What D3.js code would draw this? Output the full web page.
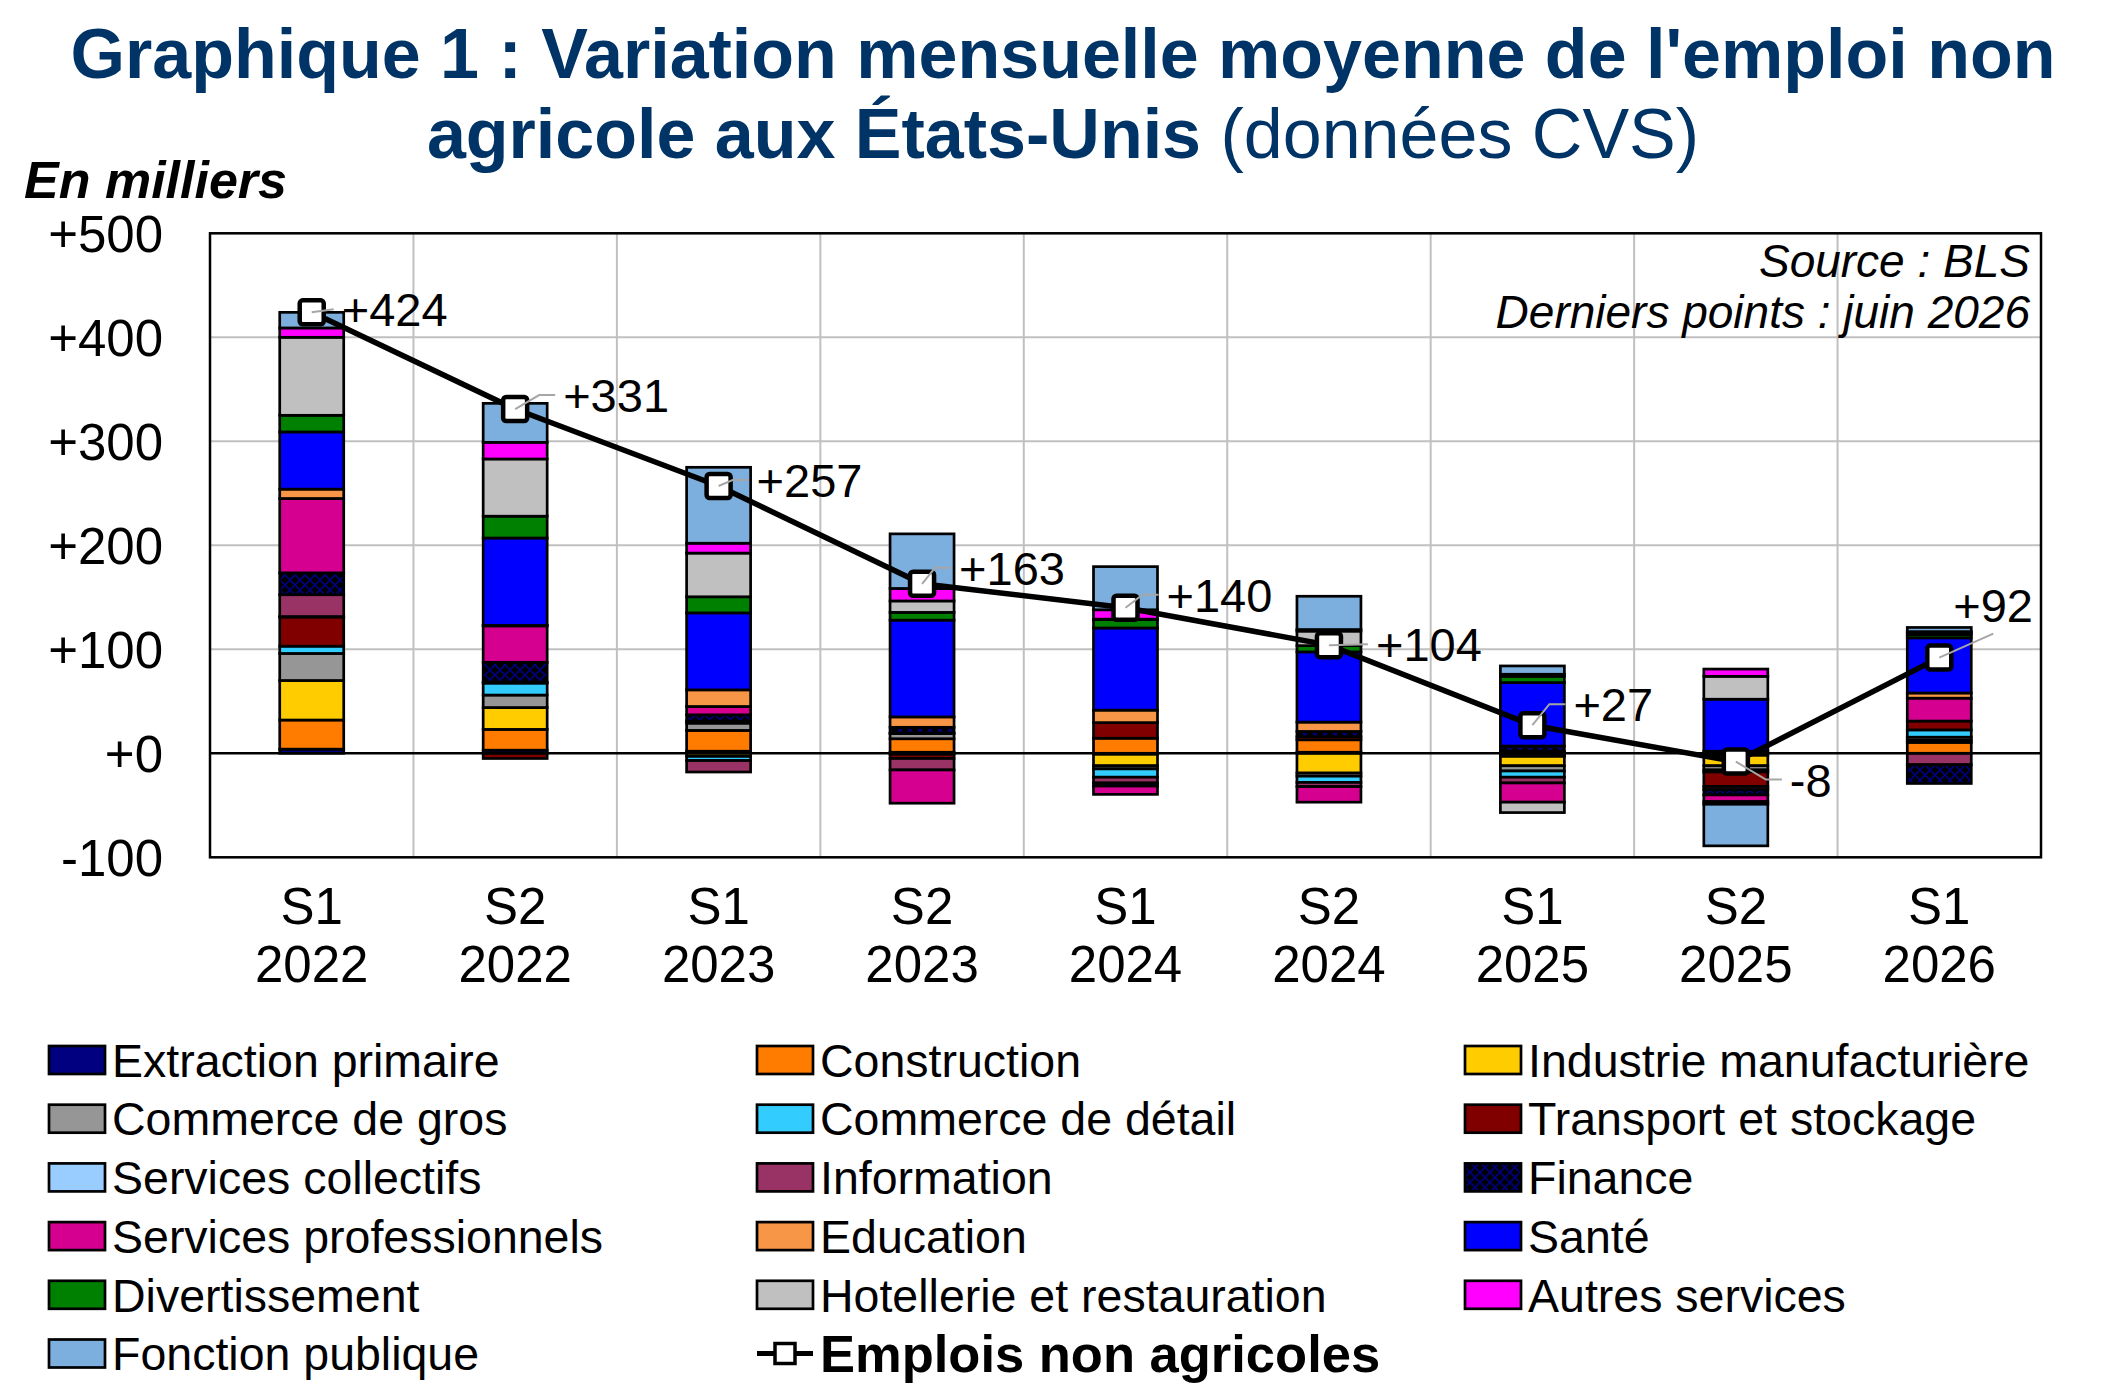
<!DOCTYPE html>
<html lang="fr">
<head>
<meta charset="utf-8">
<script src="https://cdn.jsdelivr.net/npm/d3@7"></script>
<style>
  body { margin: 0; background: #fff; }
  svg { display: block; font-family: "Liberation Sans", Arial, sans-serif; }
</style>
</head>
<body>
<div id="chart"></div>
<script>
// Semestres
const periods = ["S1 2022", "S2 2022", "S1 2023", "S2 2023", "S1 2024", "S2 2024", "S1 2025", "S2 2025", "S1 2026"];

// Contributions par secteur (milliers, moyenne mensuelle)
const extraction     = [4, 3, 2, 1, -1, 1, -2, -2, 0];
const construction   = [28, 20, 20, 13, 14.5, 12, -1, 0, 10.5];
const industrie      = [38, 21, -3, -1, -11, -19, -9, -10, 2];
const commerceGros   = [26, 12, 7, 5, -3, -3, -5, -4, 3];
const commerceDetail = [7, 11.5, -4, 0.5, -8, -6, -6, -2, 7];
const transport      = [28, -5, 2, -4, 15, 3, 2, -14, 8.5];
const collectifs     = [0.5, 0, 0, 0, 0, 0, 0, 0, 0];
const information    = [21, 1, -11, -11, -5.5, -4, -5.5, -3, -11];
const finance        = [21, 19, 6, 5.5, -3, 5, 5, -5, -18];
const servicesPro    = [71.5, 35, 8, -32, -8, -15, -18.5, -6.5, 22];
const education      = [9, 0.5, 16, 10, 12, 9, 0, 2, 5];
const sante          = [55, 84, 74, 93, 79, 67.5, 61, 50, 53];
const divertissement = [16, 21, 15.5, 7.5, 8, 6, 6, -2.5, 3];
const hotellerie     = [75, 55, 42, 11, 0.5, 14, -10, 22, 2];
const autresServices = [9, 16, 9.5, 12, 9, 1.5, 2, 7, 1];
const fonctionPub    = [15, 37.5, 73, 52.5, 41.5, 32, 8, -40, 4];

// Total emploi non agricole
const emploisTotal = [424, 331, 257, 163, 140, 104, 27, -8, 92];

const yTicks = [-100, 0, 100, 200, 300, 400, 500];

const series = [
  { name: "Extraction primaire", values: extraction, color: "#000080" },
  { name: "Construction", values: construction, color: "#ff7c00" },
  { name: "Industrie manufacturière", values: industrie, color: "#ffcc00" },
  { name: "Commerce de gros", values: commerceGros, color: "#969696" },
  { name: "Commerce de détail", values: commerceDetail, color: "#33ccff" },
  { name: "Transport et stockage", values: transport, color: "#800000" },
  { name: "Services collectifs", values: collectifs, color: "#99ccff" },
  { name: "Information", values: information, color: "#993366" },
  { name: "Finance", values: finance, color: "url(#hatch)" },
  { name: "Services professionnels", values: servicesPro, color: "#d5008f" },
  { name: "Education", values: education, color: "#f79646" },
  { name: "Santé", values: sante, color: "#0000ff" },
  { name: "Divertissement", values: divertissement, color: "#008000" },
  { name: "Hotellerie et restauration", values: hotellerie, color: "#c0c0c0" },
  { name: "Autres services", values: autresServices, color: "#ff00ff" },
  { name: "Fonction publique", values: fonctionPub, color: "#7cafdd" }
];

// label placement relative to the marker
const labelOffsets = [[30, -3], [48, -14], [38, -6], [37, -16], [41, -13], [47, -1], [41, -21], [54, 18], [14, -53]];

const width = 2126, height = 1384;
const plot = { left: 210, right: 2041, top: 233.3, bottom: 857.3 };

const svg = d3.select("#chart").append("svg").attr("width", width).attr("height", height);

const defs = svg.append("defs");
const pat = defs.append("pattern").attr("id", "hatch").attr("patternUnits", "userSpaceOnUse")
  .attr("width", 10).attr("height", 10);
pat.append("rect").attr("width", 10).attr("height", 10).attr("fill", "#000");
pat.append("path").attr("d", "M0,0L10,10M10,0L0,10").attr("stroke", "#000080").attr("stroke-width", 1.6);

const x = d3.scaleBand().domain(periods).range([plot.left, plot.right]);
const y = d3.scaleLinear().domain([-100, 500]).range([plot.bottom, plot.top]);
const barW = 64;

// Title
const title = svg.append("text").attr("text-anchor", "middle").attr("fill", "#003366")
  .style("font-size", "70px").style("font-weight", "bold");
title.append("tspan").attr("x", width / 2).attr("y", 78).text("Graphique 1 : Variation mensuelle moyenne de l'emploi non");
const t2 = title.append("tspan").attr("x", width / 2).attr("y", 158);
t2.append("tspan").text("agricole aux États-Unis");
t2.append("tspan").style("font-weight", "normal").text(" (données CVS)");

svg.append("text").attr("x", 24).attr("y", 198)
  .style("font-size", "52px").style("font-weight", "bold").style("font-style", "italic")
  .text("En milliers");

// gridlines
svg.append("g").selectAll("line").data(yTicks.filter(v => v !== 0)).enter().append("line")
  .attr("x1", plot.left).attr("x2", plot.right)
  .attr("y1", d => y(d)).attr("y2", d => y(d))
  .attr("stroke", "#c0c0c0").attr("stroke-width", 2);
svg.append("g").selectAll("line").data(periods.slice(1)).enter().append("line")
  .attr("x1", d => x(d)).attr("x2", d => x(d))
  .attr("y1", plot.top).attr("y2", plot.bottom)
  .attr("stroke", "#c0c0c0").attr("stroke-width", 2);

svg.append("text").attr("x", 2030).attr("y", 277).attr("text-anchor", "end")
  .style("font-size", "46px").style("font-style", "italic").text("Source : BLS");
svg.append("text").attr("x", 2030).attr("y", 328).attr("text-anchor", "end")
  .style("font-size", "46px").style("font-style", "italic").text("Derniers points : juin 2026");

// bars
const table = periods.map((p, i) => {
  const row = { period: p };
  series.forEach(s => row[s.name] = s.values[i]);
  return row;
});
const layers = d3.stack().keys(series.map(s => s.name)).offset(d3.stackOffsetDiverging)(table);

svg.append("g").selectAll("g").data(layers).enter().append("g")
  .attr("fill", (d, i) => series[i].color)
  .selectAll("rect").data(d => d.filter(v => v[1] !== v[0])).enter().append("rect")
  .attr("x", d => x(d.data.period) + x.bandwidth() / 2 - barW / 2)
  .attr("width", barW)
  .attr("y", d => y(Math.max(d[0], d[1])))
  .attr("height", d => Math.abs(y(d[0]) - y(d[1])))
  .attr("stroke", "#000").attr("stroke-width", 2.7);

// zero line and frame
svg.append("line").attr("x1", plot.left).attr("x2", plot.right).attr("y1", y(0)).attr("y2", y(0))
  .attr("stroke", "#000").attr("stroke-width", 2.5);
svg.append("rect").attr("x", plot.left).attr("y", plot.top)
  .attr("width", plot.right - plot.left).attr("height", plot.bottom - plot.top)
  .attr("fill", "none").attr("stroke", "#000").attr("stroke-width", 2.5);

// axes labels
svg.append("g").selectAll("text").data(yTicks).enter().append("text")
  .attr("x", 163).attr("y", d => y(d)).attr("dy", "0.36em").attr("text-anchor", "end")
  .style("font-size", "51px")
  .text(d => d > 0 ? "+" + d : d === 0 ? "+0" : d);

const xl = svg.append("g").selectAll("text").data(periods).enter().append("text")
  .attr("text-anchor", "middle").style("font-size", "51px");
xl.append("tspan").attr("x", d => x(d) + x.bandwidth() / 2).attr("y", 924).text(d => d.split(" ")[0]);
xl.append("tspan").attr("x", d => x(d) + x.bandwidth() / 2).attr("y", 982).text(d => d.split(" ")[1]);

// total line
const cx = i => x(periods[i]) + x.bandwidth() / 2;
svg.append("path").datum(emploisTotal)
  .attr("d", d3.line().x((d, i) => cx(i)).y(d => y(d)))
  .attr("fill", "none").attr("stroke", "#000").attr("stroke-width", 5.5);

svg.append("g").selectAll("rect").data(emploisTotal).enter().append("rect")
  .attr("x", (d, i) => cx(i) - 12).attr("y", d => y(d) - 12)
  .attr("width", 24).attr("height", 24).attr("rx", 3)
  .attr("fill", "#fff").attr("stroke", "#000").attr("stroke-width", 4.5);

// leader lines + labels
const lab = svg.append("g");
emploisTotal.forEach((v, i) => {
  const mx = cx(i), my = y(v);
  const lx = mx + labelOffsets[i][0], ly = my + labelOffsets[i][1];
  let pts;
  if (i === 8) pts = [[mx, my], [lx + 40, ly + 29]];
  else if (Math.abs(labelOffsets[i][1]) < 4) pts = [[mx, my], [lx - 8, ly]];
  else pts = [[mx, my], [lx - 24, ly], [lx - 8, ly]];
  lab.append("path").attr("d", d3.line()(pts))
    .attr("fill", "none").attr("stroke", "#a6a6a6").attr("stroke-width", 2);
  lab.append("text").attr("x", lx).attr("y", ly).attr("dy", "0.36em")
    .style("font-size", "47px").text(v > 0 ? "+" + v : v);
});

// legend
const legendItems = series.map(s => ({ name: s.name, color: s.color, type: "bar" }));
legendItems.push({ name: "Emplois non agricoles", type: "line" });
const colX = [49, 757, 1465];
const rowY0 = 1060, rowStep = 58.7;
const lg = svg.append("g").selectAll("g").data(legendItems).enter().append("g")
  .attr("transform", (d, i) => `translate(${colX[i % 3]},${rowY0 + Math.floor(i / 3) * rowStep})`);
lg.filter(d => d.type === "bar").append("rect")
  .attr("x", 0).attr("y", -14).attr("width", 56).attr("height", 28)
  .attr("fill", d => d.color).attr("stroke", "#000").attr("stroke-width", 2.7);
const ll = lg.filter(d => d.type === "line");
ll.append("line").attr("x1", 0).attr("x2", 56).attr("y1", 0).attr("y2", 0)
  .attr("stroke", "#000").attr("stroke-width", 5);
ll.append("rect").attr("x", 18).attr("y", -10).attr("width", 20).attr("height", 20)
  .attr("fill", "#fff").attr("stroke", "#000").attr("stroke-width", 3.5);
lg.append("text").attr("x", 63).attr("y", 0).attr("dy", "0.36em")
  .style("font-size", d => d.type === "line" ? "52.5px" : "46.5px")
  .style("font-weight", d => d.type === "line" ? "bold" : "normal")
  .text(d => d.name);
</script>
</body>
</html>
